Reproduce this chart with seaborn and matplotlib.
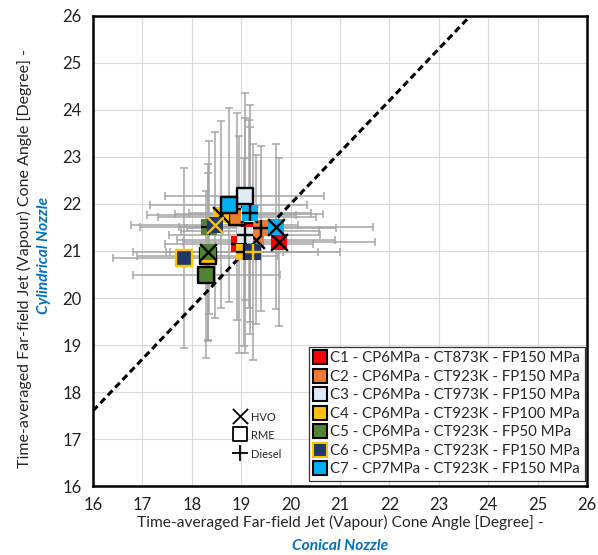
import numpy as np
import pandas as pd
import matplotlib
matplotlib.use("Agg")
import matplotlib.pyplot as plt
from matplotlib.lines import Line2D
import seaborn as sns

# Test conditions (chamber pressure, chamber temperature, fuel pressure)
conditions = [
    "C1 - CP6MPa - CT873K - FP150 MPa",
    "C2 - CP6MPa - CT923K - FP150 MPa",
    "C3 - CP6MPa - CT973K - FP150 MPa",
    "C4 - CP6MPa - CT923K - FP100 MPa",
    "C5 - CP6MPa - CT923K - FP50 MPa",
    "C6 - CP5MPa - CT923K - FP150 MPa",
    "C7 - CP7MPa - CT923K - FP150 MPa",
]
fill_colors = ["#FF0000", "#ED7D31", "#DEEBF7", "#FFC000", "#548235", "#203864", "#00B0F0"]
edge_colors = ["#000000", "#000000", "#000000", "#000000", "#000000", "#FFC000", "#000000"]

# Mean cone angles (x: conical nozzle, y: cylindrical nozzle) and standard deviations
hvo_x = [19.77, 19.30, 19.16, 18.60, 18.33, 18.46, 19.71]
hvo_y = [21.19, 21.24, 21.78, 21.77, 20.97, 21.55, 21.52]
hvo_xerr = [1.94, 1.60, 1.50, 1.50, 1.52, 1.70, 1.96]
hvo_yerr = [1.79, 1.80, 2.00, 1.99, 1.88, 1.98, 1.76]

rme_x = [19.18, 18.92, 19.07, 18.32, 18.29, 17.85, 18.75]
rme_y = [21.43, 21.73, 22.16, 20.89, 20.50, 20.85, 21.98]
rme_xerr = [1.40, 1.60, 1.61, 1.43, 1.49, 1.45, 1.59]
rme_yerr = [2.20, 2.20, 2.20, 1.78, 1.78, 1.92, 2.06]

diesel_x = [18.95, 19.41, 19.07, 19.05, 18.35, 19.24, 19.18]
diesel_y = [21.14, 21.48, 21.33, 20.98, 21.50, 20.98, 21.80]
diesel_xerr = [1.50, 1.50, 1.53, 1.50, 1.40, 1.77, 1.24]
diesel_yerr = [2.30, 1.75, 2.50, 2.00, 1.85, 2.30, 2.30]

fuels = ["HVO", "RME", "Diesel"]

rows = []
for fuel, xs, ys, xe, ye in [
    ("HVO", hvo_x, hvo_y, hvo_xerr, hvo_yerr),
    ("RME", rme_x, rme_y, rme_xerr, rme_yerr),
    ("Diesel", diesel_x, diesel_y, diesel_xerr, diesel_yerr),
]:
    for i in range(len(conditions)):
        rows.append(dict(cond=i, fuel=fuel, x=xs[i], y=ys[i], xerr=xe[i], yerr=ye[i]))
df = pd.DataFrame(rows)

sns.set_style("white")
plt.rcParams["font.family"] = ["Lato", "DejaVu Sans"]

fig = plt.figure(figsize=(5.98, 5.55), dpi=100)
ax = fig.add_axes([0.1555, 0.1243, 0.826, 0.8469])

ax.errorbar(df["x"], df["y"], xerr=df["xerr"], yerr=df["yerr"], fmt="none",
            ecolor="#A6A6A6", elinewidth=1.1, capsize=3, capthick=1.1, zorder=2)

# Reference line y = 1.1 x
lx = np.array([16.0, 26.0])
ax.plot(lx, 1.1 * lx, color="black", lw=2.2, ls=(0, (2.2, 1.3)), zorder=3)

msize = 145
z = 4
for i in range(len(conditions)):
    fc, ec = fill_colors[i], edge_colors[i]
    for fuel in fuels:
        sub = df[(df["cond"] == i) & (df["fuel"] == fuel)]
        if fuel == "RME":
            sns.scatterplot(data=sub, x="x", y="y", marker="s", s=msize, color=fc,
                            edgecolor=ec, linewidth=1.7, ax=ax, zorder=z, legend=False)
        else:
            sns.scatterplot(data=sub, x="x", y="y", marker="s", s=msize, color=fc,
                            linewidth=0, ax=ax, zorder=z, legend=False)
            sns.scatterplot(data=sub, x="x", y="y", marker="x" if fuel == "HVO" else "+",
                            s=msize, color=ec, linewidth=1.7, ax=ax, zorder=z + 0.5,
                            legend=False)
        z += 1

# Fuel marker key
key_x = 18.98
for yy, mk, name in [(17.49, "x", "HVO"), (17.11, "s", "RME"), (16.70, "+", "Diesel")]:
    if mk == "s":
        ax.scatter([key_x], [yy], marker="s", s=110, facecolor="white",
                   edgecolor="black", linewidth=1.3, zorder=50)
    else:
        ax.scatter([key_x], [yy], marker=mk, s=120, color="black", linewidth=1.3, zorder=50)
    ax.text(key_x + 0.22, yy - 0.03, name, fontsize=8, va="center", ha="left", zorder=50)

handles = [Line2D([], [], marker="s", ls="none", markersize=9.5,
                  markerfacecolor=fill_colors[i], markeredgecolor=edge_colors[i],
                  markeredgewidth=1.5) for i in range(len(conditions))]
leg = ax.legend(handles, conditions, loc="lower right", bbox_to_anchor=(0.996, 0.011),
                borderaxespad=0, frameon=True, fancybox=False, fontsize=10.8,
                handlelength=0.8, handletextpad=0.3, labelspacing=0.3, borderpad=0.3)
leg.get_frame().set_edgecolor("black")
leg.get_frame().set_linewidth(0.9)
leg.set_zorder(60)

ax.set_xlim(16, 26)
ax.set_ylim(16, 26)
ax.set_xticks(range(16, 27))
ax.set_yticks(range(16, 27))
ax.tick_params(axis="both", length=0, labelsize=12, pad=8, colors="#222222")
ax.grid(True, color="#D9D9D9", lw=0.8)
ax.set_axisbelow(True)
for sp in ax.spines.values():
    sp.set_color("black")
    sp.set_linewidth(1.8)
ax.set_xlabel("")
ax.set_ylabel("")

label_main = "Time-averaged Far-field Jet (Vapour) Cone Angle [Degree] -"
fig.text(340 / 598, 1 - 522 / 555, label_main, ha="center", va="center", fontsize=11.2)
fig.text(340 / 598, 1 - 546 / 555, "Conical Nozzle", ha="center", va="center",
         fontsize=11.2, color="#0070C0", fontweight="bold", fontstyle="italic")
fig.text(24 / 598, 1 - 258 / 555, label_main, ha="center", va="center", fontsize=11.5,
         rotation=90)
fig.text(44 / 598, 1 - 255 / 555, "Cylindrical Nozzle", ha="center", va="center",
         fontsize=11.2, color="#0070C0", fontweight="bold", fontstyle="italic", rotation=90)

fig.savefig("out.png", dpi=100)
